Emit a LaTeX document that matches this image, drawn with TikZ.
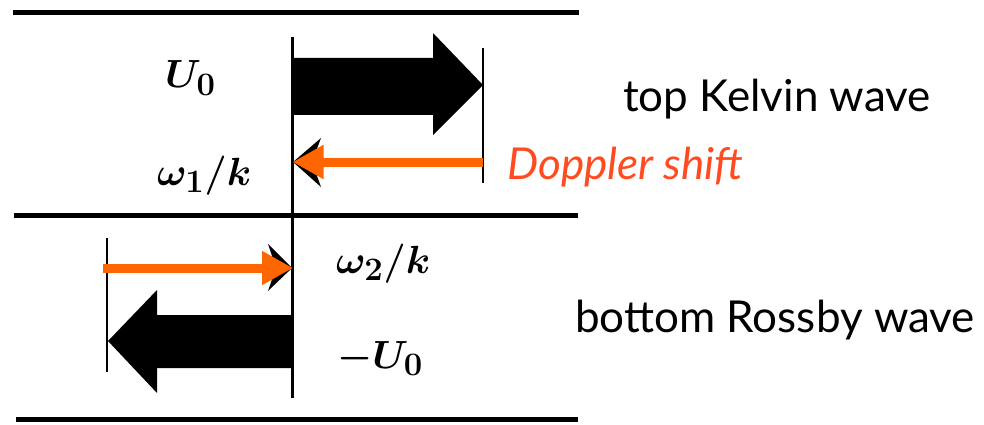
\documentclass[tikz,border=0pt]{standalone}
\usepackage{fontspec}
\setsansfont{Lato}
\usetikzlibrary{arrows.meta}
\definecolor{arrowc}{HTML}{FF6600}
\definecolor{dopc}{HTML}{FF4B1F}
\newcommand{\bigmath}[1]{\scalebox{1.58}{\Huge\boldmath $#1$}}
\tikzset{
  wall/.style={line width=5pt},
  guide/.style={line width=2.2pt},
  bigarrow/.style={fill=black, draw=none},
  smallhead/.style={fill=black, draw=none},
  shiftarrow/.style={draw=arrowc, line width=9pt, -{Triangle[length=31pt,width=32pt]}, shorten >=0pt},
  mathlbl/.style={inner sep=0pt, anchor=base west},
  textlbl/.style={inner sep=0pt, anchor=base west, font=\sffamily\fontsize{44}{52}\selectfont}
}
\begin{document}
\begin{tikzpicture}[x=1pt,y=-1pt]
\useasboundingbox (0,0) rectangle (984,425);
% walls
\coordinate (topL) at (13,13);   \coordinate (topR) at (579,13);
\coordinate (midL) at (14,215);  \coordinate (midR) at (578,215);
\coordinate (botL) at (16,419);  \coordinate (botR) at (578,419);
\draw[wall] (topL) -- (topR);
\draw[wall] (midL) -- (midR);
\draw[wall] (botL) -- (botR);
% guide lines
\coordinate (cTop) at (292.5,37); \coordinate (cBot) at (292.5,398);
\coordinate (rTop) at (483,48);   \coordinate (rBot) at (483,183);
\coordinate (lTop) at (107,238);  \coordinate (lBot) at (107,372);
\draw[guide] (cTop) -- (cBot);
\draw[guide] (rTop) -- (rBot);
\draw[guide] (lTop) -- (lBot);
% big arrows
\fill[bigarrow] (292,58) -- (433,58) -- (433,33) -- (483,85) -- (433,135) -- (433,115) -- (292,115) -- cycle;
\fill[bigarrow] (292,315) -- (157,315) -- (157,290) -- (108,341) -- (157,393) -- (157,368) -- (292,368) -- cycle;
% small black heads (partly hidden)
\fill[smallhead] (293,162) -- (321,138) -- (312,162) -- (321,187) -- cycle;
\fill[smallhead] (292,268) -- (268,244) -- (276,268) -- (268,291) -- cycle;
% Doppler shift arrows
\coordinate (d1s) at (483,162); \coordinate (d1e) at (292.5,162);
\coordinate (d2s) at (103,268); \coordinate (d2e) at (293,268);
\draw[shiftarrow] (d1s) -- (d1e);
\draw[shiftarrow] (d2s) -- (d2e);
% math labels
\node[mathlbl] (U0) at (165,88) {\bigmath{U_0}};
\node[mathlbl] (w1) at (157,185) {\bigmath{\omega_1/k}};
\node[mathlbl] (w2) at (336,273) {\bigmath{\omega_2/k}};
\node[mathlbl] (mU0) at (337,368) {\bigmath{-U_0}};
% text labels
\node[textlbl] (kelvin) at (623,112) {top Kelvin wave};
\node[textlbl, text=dopc, font=\sffamily\itshape\fontsize{44}{52}\selectfont] (doppler) at (507,179) {Doppler shift};
\node[textlbl] (rossby) at (575,332) {bottom Rossby wave};
\end{tikzpicture}
\end{document}
